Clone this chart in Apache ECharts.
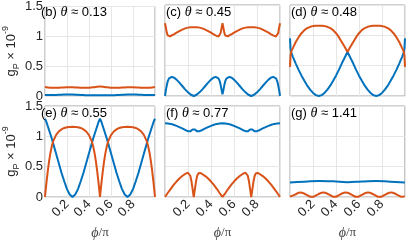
<!DOCTYPE html>
<html><head><meta charset="utf-8">
<script src="https://cdn.jsdelivr.net/npm/echarts@6/dist/echarts.min.js"></script>
<style>html,body{margin:0;padding:0;background:#fff}#c{width:407px;height:241px}</style>
</head><body><div id="c"></div>
<script>
// ---- data (x = phi/pi, y = g_P x 1e-9) ----
const yTicks = [0, 0.5, 1, 1.5];
const xTicks = [0.2, 0.4, 0.6, 0.8];

// (b) theta ~ 0.13
const xB = [0,0.05,0.1,0.15,0.2,0.25,0.3,0.35,0.4,0.45,0.5,0.55,0.6,0.65,0.7,0.75,0.8,0.85,0.9,0.95,1];
const bOrange = [0.15,0.14,0.138,0.142,0.146,0.146,0.142,0.138,0.14,0.148,0.16,0.148,0.14,0.138,0.142,0.146,0.146,0.142,0.138,0.14,0.15];
const bBlue = [0.018,0.016,0.018,0.022,0.025,0.024,0.02,0.015,0.012,0.012,0.014,0.012,0.012,0.015,0.02,0.024,0.025,0.022,0.018,0.016,0.018];

// (c) theta ~ 0.45
const xC = [0,0.008,0.016,0.025,0.035,0.045,0.06,0.08,0.1,0.125,0.15,0.175,0.2,0.225,0.25,0.275,0.3,0.325,0.35,0.375,0.4,0.42,0.44,0.455,0.465,0.475,0.484,0.492,0.5,0.508,0.516,0.525,0.535,0.545,0.56,0.58,0.6,0.625,0.65,0.675,0.7,0.725,0.75,0.775,0.8,0.825,0.85,0.875,0.9,0.92,0.94,0.955,0.965,0.975,0.984,0.992,1];
const cOrange = [1.2,1.12,1.04,0.995,0.98,0.985,1.0,1.02,1.045,1.07,1.095,1.115,1.127,1.133,1.135,1.133,1.127,1.115,1.095,1.07,1.045,1.02,1.0,0.985,0.98,0.995,1.04,1.12,1.2,1.12,1.04,0.995,0.98,0.985,1.0,1.02,1.045,1.07,1.095,1.115,1.127,1.133,1.135,1.133,1.127,1.115,1.095,1.07,1.045,1.02,1.0,0.985,0.98,0.995,1.04,1.12,1.2];
const cBlue = [0.0,0.1,0.18,0.25,0.29,0.31,0.315,0.3,0.27,0.22,0.165,0.11,0.06,0.02,0.0,0.02,0.06,0.11,0.165,0.22,0.27,0.3,0.315,0.31,0.29,0.25,0.18,0.1,0.03,0.1,0.18,0.25,0.29,0.31,0.315,0.3,0.27,0.22,0.165,0.11,0.06,0.02,0.0,0.02,0.06,0.11,0.165,0.22,0.27,0.3,0.315,0.31,0.29,0.25,0.18,0.1,0.0];

// (d) theta ~ 0.48
const xD = [0,0.005,0.012,0.025,0.05,0.075,0.1,0.125,0.15,0.175,0.2,0.225,0.25,0.275,0.3,0.325,0.35,0.375,0.4,0.425,0.45,0.475,0.5,0.525,0.55,0.575,0.6,0.625,0.65,0.675,0.7,0.725,0.75,0.775,0.8,0.825,0.85,0.875,0.9,0.925,0.95,0.975,0.988,0.995,1];
const dOrange = [0.48,0.67,0.74,0.79,0.89,0.97,1.035,1.085,1.12,1.14,1.152,1.157,1.158,1.157,1.152,1.14,1.12,1.085,1.035,0.97,0.89,0.81,0.725,0.81,0.89,0.97,1.035,1.085,1.12,1.14,1.152,1.157,1.158,1.157,1.152,1.14,1.12,1.085,1.035,0.97,0.89,0.79,0.74,0.67,0.48];
const dBlue = [0.95,0.78,0.71,0.645,0.535,0.43,0.335,0.25,0.17,0.105,0.05,0.015,0.0,0.015,0.05,0.105,0.17,0.25,0.335,0.43,0.535,0.63,0.725,0.63,0.535,0.43,0.335,0.25,0.17,0.105,0.05,0.015,0.0,0.015,0.05,0.105,0.17,0.25,0.335,0.43,0.535,0.645,0.71,0.78,0.95];

// (e) theta ~ 0.55
const xE = [0,0.0125,0.025,0.0375,0.05,0.0625,0.075,0.1,0.125,0.15,0.175,0.2,0.225,0.25,0.275,0.3,0.325,0.35,0.375,0.4,0.425,0.4375,0.45,0.4625,0.475,0.4875,0.5,0.5125,0.525,0.5375,0.55,0.5625,0.575,0.6,0.625,0.65,0.675,0.7,0.725,0.75,0.775,0.8,0.825,0.85,0.875,0.9,0.925,0.9375,0.95,0.9625,0.975,0.9875,1];
const eOrange = [0,0.22,0.42,0.59,0.73,0.84,0.92,1.02,1.08,1.115,1.138,1.15,1.155,1.157,1.155,1.15,1.138,1.115,1.08,1.02,0.92,0.84,0.73,0.59,0.42,0.22,0,0.22,0.42,0.59,0.73,0.84,0.92,1.02,1.08,1.115,1.138,1.15,1.155,1.157,1.155,1.15,1.138,1.115,1.08,1.02,0.92,0.84,0.73,0.59,0.42,0.22,0];
const eBlue = [1.29,1.24,1.17,1.1,1.03,0.96,0.88,0.72,0.56,0.4,0.26,0.13,0.04,0.0,0.04,0.13,0.26,0.4,0.56,0.72,0.88,0.96,1.03,1.1,1.17,1.24,1.29,1.24,1.17,1.1,1.03,0.96,0.88,0.72,0.56,0.4,0.26,0.13,0.04,0.0,0.04,0.13,0.26,0.4,0.56,0.72,0.88,0.96,1.03,1.1,1.17,1.24,1.29];

// (f) theta ~ 0.77
const xF = [0,0.025,0.05,0.075,0.1,0.125,0.15,0.175,0.19,0.2,0.21,0.22,0.23,0.24,0.25,0.26,0.27,0.28,0.29,0.3,0.31,0.325,0.35,0.375,0.4,0.425,0.45,0.475,0.5,0.525,0.55,0.575,0.6,0.625,0.65,0.675,0.69,0.7,0.71,0.72,0.73,0.74,0.75,0.76,0.77,0.78,0.79,0.8,0.81,0.825,0.85,0.875,0.9,0.925,0.95,0.975,1];
const fOrange = [0,0.07,0.135,0.2,0.255,0.305,0.345,0.38,0.395,0.4,0.39,0.35,0.26,0.13,0.0,0.13,0.26,0.35,0.39,0.4,0.395,0.38,0.345,0.305,0.255,0.2,0.135,0.065,0.0,0.065,0.135,0.2,0.255,0.305,0.345,0.38,0.395,0.4,0.39,0.35,0.26,0.13,0,0.13,0.26,0.35,0.39,0.4,0.395,0.38,0.345,0.305,0.255,0.2,0.135,0.07,0];
const fBlue = [1.215,1.212,1.205,1.19,1.172,1.152,1.13,1.105,1.092,1.085,1.08,1.082,1.095,1.112,1.118,1.112,1.095,1.082,1.08,1.085,1.092,1.105,1.13,1.152,1.172,1.19,1.205,1.212,1.215,1.212,1.205,1.19,1.172,1.152,1.13,1.105,1.092,1.085,1.08,1.082,1.095,1.112,1.118,1.112,1.095,1.082,1.08,1.085,1.092,1.105,1.13,1.152,1.172,1.19,1.205,1.212,1.215];

// (g) theta ~ 1.41
const xGo = [0,0.045,0.09,0.14,0.19,0.24,0.29,0.34,0.39,0.435,0.485,0.535,0.58,0.63,0.68,0.73,0.78,0.83,0.88,0.93,0.975,1];
const gOrange = [0.005,0.04,0.075,0.04,0.003,0.04,0.075,0.04,0.003,0.04,0.075,0.04,0.003,0.04,0.075,0.04,0.003,0.04,0.075,0.04,0.003,0.01];
const xGb = [0,0.125,0.25,0.375,0.5,0.625,0.75,0.875,1];
const gBlue = [0.24,0.25,0.265,0.258,0.245,0.255,0.265,0.252,0.24];

const labels = ['(b)','(c)','(d)','(e)','(f)','(g)'];
const thetas = ['0.13','0.45','0.48','0.55','0.77','1.41'];

// ---- chart ----
const BLUE = '#0072BD', ORANGE = '#D95319', TXT = '#262626';
const FONT = 'Liberation Sans';
const panels = [
  {bx:xB, by:bBlue, ox:xB, oy:bOrange, smooth:true},
  {bx:xC, by:cBlue, ox:xC, oy:cOrange, smooth:false},
  {bx:xD, by:dBlue, ox:xD, oy:dOrange, smooth:false},
  {bx:xE, by:eBlue, ox:xE, oy:eOrange, smooth:false},
  {bx:xF, by:fBlue, ox:xF, oy:fOrange, smooth:false},
  {bx:xGb, by:gBlue, ox:xGo, oy:gOrange, smooth:true}
];
const lefts = [40, 165, 290], tops = [5, 106], W = 115, H = 91;
const zip = (xs, ys) => xs.map((x, i) => [x, ys[i]]);

const grid = [], xAxis = [], yAxis = [], series = [], graphic = [];
panels.forEach((p, i) => {
  const row = Math.floor(i / 3), col = i % 3;
  grid.push({left: lefts[col], top: tops[row], width: W, height: H, show: true,
    borderColor: '#a3a3a3', borderWidth: 1, backgroundColor: 'transparent'});
  xAxis.push({gridIndex: i, type: 'value', min: 0, max: 1, interval: 0.2,
    axisLine: {show: false}, axisTick: {show: false},
    splitLine: {show: true, lineStyle: {color: '#e6e6e6', width: 1}},
    axisLabel: {show: row === 1, rotate: 45, fontSize: 13, fontFamily: FONT, color: TXT, margin: 5,
      formatter: v => { const t = xTicks.find(k => Math.abs(k - v) < 1e-6); return t === undefined ? '' : String(t); }},
    name: row === 1 ? '{i|ϕ}/π' : '', nameLocation: 'middle', nameGap: 29,
    nameTextStyle: {fontSize: 13, fontFamily: 'Liberation Serif', color: '#404040',
      rich: {i: {fontSize: 14, fontStyle: 'italic', fontFamily: 'Liberation Serif', color: '#404040'}}}
  });
  yAxis.push({gridIndex: i, type: 'value', min: yTicks[0], max: yTicks[yTicks.length - 1], interval: 0.5,
    axisLine: {show: false}, axisTick: {show: false},
    splitLine: {show: true, lineStyle: {color: '#e6e6e6', width: 1}},
    axisLabel: {show: col === 0, fontSize: 13, fontFamily: FONT, color: TXT, margin: 2},
    name: col === 0 ? '{a|g}{s|P}{a| × 10}{p|-9}' : '', nameLocation: 'middle', nameGap: 21,
    nameTextStyle: {color: TXT, fontFamily: FONT, fontSize: 13,
      rich: {
        a: {fontSize: 13, fontFamily: FONT, color: TXT, lineHeight: 20},
        s: {fontSize: 9, fontFamily: FONT, color: TXT, lineHeight: 10, verticalAlign: 'bottom'},
        p: {fontSize: 9, fontFamily: FONT, color: TXT, lineHeight: 10, verticalAlign: 'top'}
      }}
  });
  series.push({type: 'line', xAxisIndex: i, yAxisIndex: i, data: zip(p.bx, p.by), showSymbol: false,
    smooth: p.smooth, lineStyle: {color: BLUE, width: 2}, itemStyle: {color: BLUE}, animation: false, silent: true});
  series.push({type: 'line', xAxisIndex: i, yAxisIndex: i, data: zip(p.ox, p.oy), showSymbol: false,
    smooth: p.smooth, lineStyle: {color: ORANGE, width: 2}, itemStyle: {color: ORANGE}, animation: false, silent: true});
  graphic.push({type: 'text', x: lefts[col] + 1, y: tops[row] + 7, z: 100,
    style: {text: labels[i] + ' {t|θ} ≈ ' + thetas[i], fontSize: 13, fontFamily: FONT, fill: '#000',
      verticalAlign: 'middle', align: 'left',
      rich: {t: {fontSize: 14, fontStyle: 'italic', fontFamily: 'Liberation Serif', fill: '#000'}}}});
});

const chart = echarts.init(document.getElementById('c'), null, {renderer: 'canvas'});
chart.setOption({animation: false, grid, xAxis, yAxis, series, graphic});
</script>
</body></html>
